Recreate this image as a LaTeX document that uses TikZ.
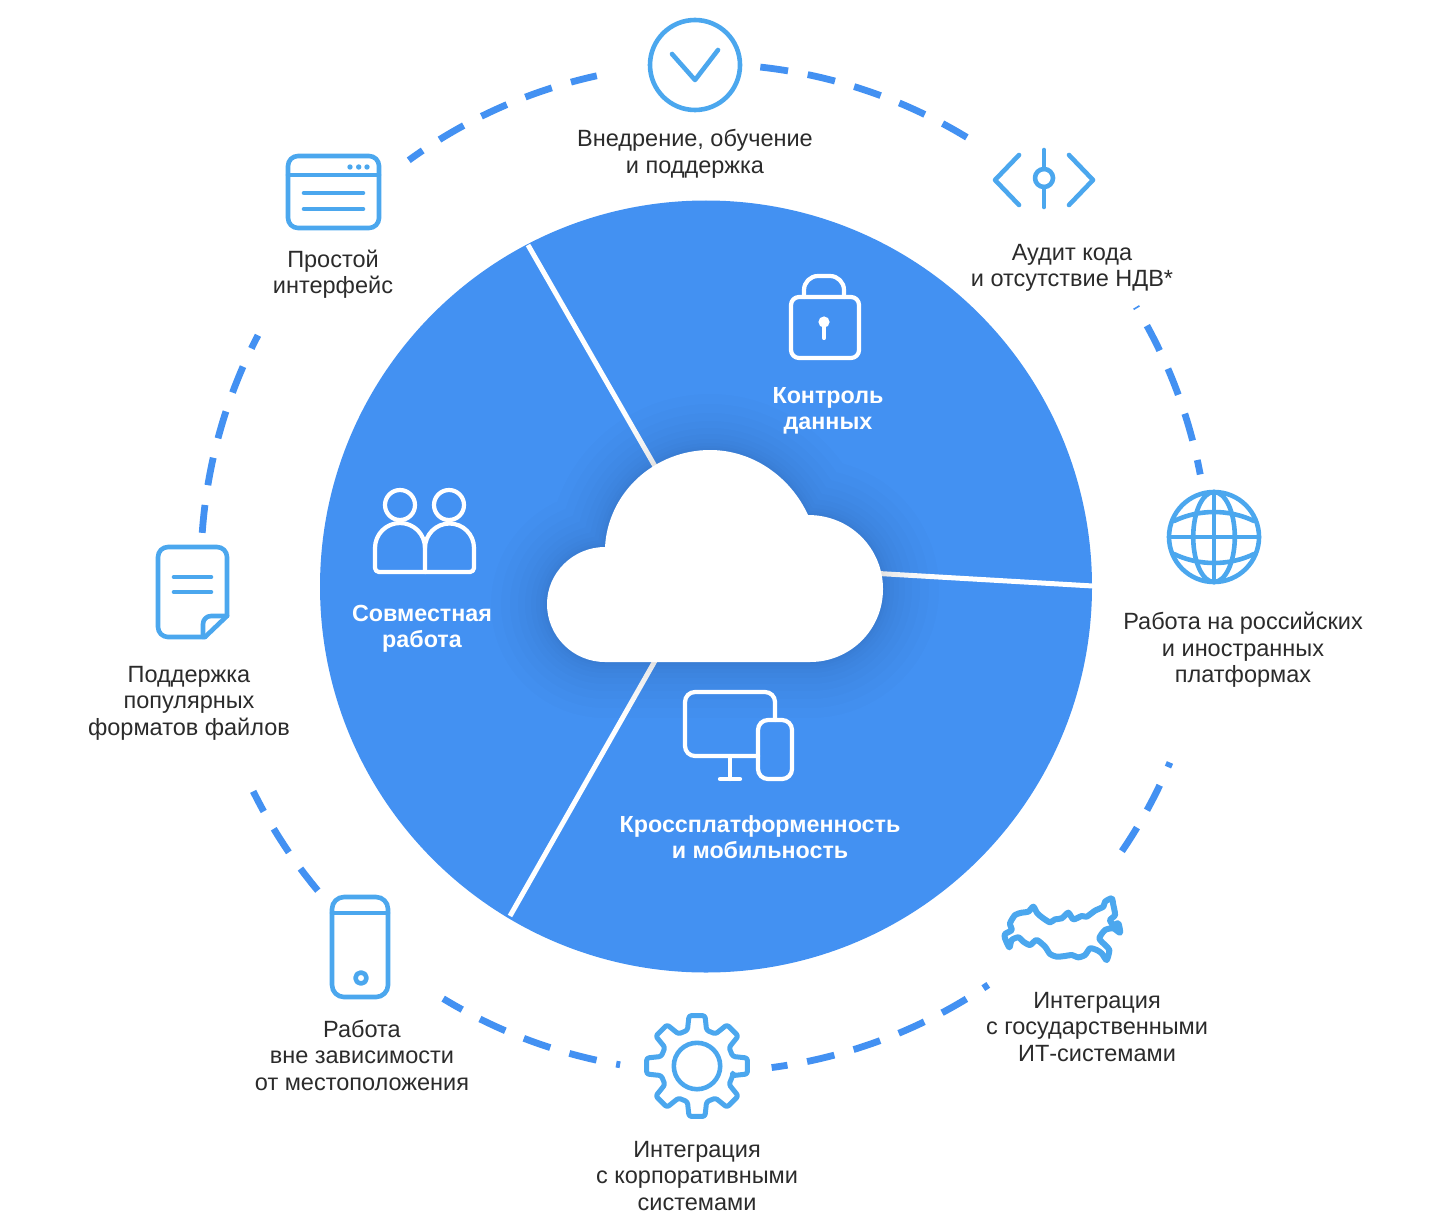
\documentclass[tikz,border=0pt]{standalone}
\usepackage{fontspec}
\setmainfont{Liberation Sans}
\usepackage{xcolor}
\definecolor{dblue}{HTML}{4391F2}
\definecolor{iblue}{HTML}{4BA7EE}
\definecolor{ttext}{HTML}{2B2B2B}
\usetikzlibrary{calc}
\usetikzlibrary{positioning}
\newcommand{\cloudpath}{(605,547) .. controls (608,492) and (655,450) .. (710,450)
  .. controls (752,450) and (790,476) .. (808,515)
  .. controls (851,515) and (883,549) .. (883,589)
  .. controls (883,630) and (850,662) .. (810,662)
  -- (605,662) .. controls (573,662) and (547,636) .. (547,604)
  .. controls (547,573) and (573,547) .. (605,547) -- cycle}
\tikzset{
  label/.style={font=\fontsize{11.75}{13.25}\selectfont,text=ttext,align=center,inner sep=0pt},
  wlabel/.style={font=\fontsize{11.65}{13.25}\selectfont\bfseries,text=white,align=center,inner sep=0pt},
  divider/.style={draw=white,line width=2.5pt},
  icon/.style={draw=iblue,line width=2.3pt,line join=round,line cap=round},
  wicon/.style={draw=white,line width=2.1pt,line join=round,line cap=round},
}
\begin{document}
\begin{tikzpicture}[x=.5pt,y=-.5pt]
\useasboundingbox (0,0) rectangle (1438,1230);
% ring
\foreach \a/\b/\p in {83.7/58.7/0,31.2/10.7/13.2,-22.7/-34.3/11.5,-55.8/-82.4/11,-99.7/-121.3/12,-140.2/-153.7/0,176/152.5/0,126/102.4/5.5}
  \draw[draw=dblue,line width=3.4pt,dash pattern=on 14pt off 10pt,dash phase=\p pt] (705,568) ++(\a:252pt) arc[start angle=\a,end angle=\b,radius=252pt];
% disc
\fill[dblue] (706,586.5) circle (193pt);
\draw[divider] (528,245) -- (660,475);
\draw[divider] (1093,586) -- (870,573);
\draw[divider] (510,916) -- (660,652);
% cloud
\foreach \w in {4,8,14,22,32,44,58,74,92,112}
  \draw[black,opacity=.013,line width=\w*.5pt,line join=round] \cloudpath;
\fill[white] \cloudpath;
% top icon
\draw[icon] (695,65) circle (22.5pt);
\draw[icon] (672,54) -- (695,80) -- (718,50);
% code
\draw[icon] (1019,155) -- (995,180) -- (1019,205);
\draw[icon] (1069,155) -- (1093,180) -- (1069,205);
\draw[icon] (1044,150) -- (1044,169) (1044,187) -- (1044,207);
\draw[icon] (1044,178) circle (4.5pt);
% globe
\draw[icon] (1214,537) circle (22.5pt);
\draw[icon] (1214,537) ellipse (10.4pt and 22.5pt);
\draw[icon] (1214,492) -- (1214,582);
\draw[icon] (1169,537) -- (1259,537);
\draw[icon] (1174,521) .. controls (1199,509) and (1229,509) .. (1254,521);
\draw[icon] (1174,554) .. controls (1199,566) and (1229,566) .. (1254,554);
% map
\begin{scope}[shift={(950,860)},x=.16667pt,y=-.16667pt]
\draw[icon,line width=3pt] plot[smooth cycle,tension=.4] coordinates {(165,222) (185,210) (180,190) (195,165) (215,158) (235,155) (250,140) (262,160) (280,175) (300,187) (315,178) (335,175) (355,158) (370,178) (395,168) (410,170) (435,152) (460,140) (465,125) (485,115) (490,135) (495,165) (480,180) (490,195) (505,190) (510,218) (490,205) (465,210) (448,235) (465,255) (478,270) (470,300) (455,280) (440,270) (420,265) (405,285) (385,292) (365,285) (345,288) (320,290) (300,282) (285,260) (260,240) (240,255) (220,245) (205,232) (185,240) (178,262) (165,235)};
\end{scope}
% gear
\draw[icon] (697,1066) circle (11.6pt);
\draw[icon,line width=2.5pt,rounded corners=1.2pt] ([shift={(697,1066)}]-15:18.5pt)
  \foreach \a in {0,45,...,315} {
    -- ([shift={(697,1066)}]\a-15:18.5pt) -- ([shift={(697,1066)}]\a-9:25.5pt)
    -- ([shift={(697,1066)}]\a+9:25.5pt) -- ([shift={(697,1066)}]\a+15:18.5pt)
  } -- cycle;
% phone
\draw[icon,rounded corners=6pt] (332,897) rectangle (388,997);
\draw[icon] (332,913) -- (388,913);
\draw[icon] (361,978) circle (2.8pt);
% document
\draw[icon,rounded corners=5pt] (205,637) -- (158,637) -- (158,547) -- (227,547) -- (227,616);
\draw[icon] (227,616) -- (205,637);
\draw[icon,rounded corners=4pt] (227,616) -- (203,616) -- (203,637);
\draw[icon] (174,577) -- (211,577) (174,592) -- (211,592);
% browser
\draw[icon,rounded corners=5pt] (288,156) rectangle (379,228);
\draw[icon] (288,175) -- (379,175);
\fill[iblue] (350,167) circle (1.35pt) (358.7,167) circle (1.35pt) (367,167) circle (1.35pt);
\draw[icon] (304,193) -- (363,193) (304,209) -- (363,209);
% lock
\draw[wicon,rounded corners=4pt] (791,297) rectangle (859,358);
\draw[wicon,rounded corners=7pt] (804,297) -- (804,276) -- (844,276) -- (844,297);
\fill[white] (824,322) circle (2.8pt);
\draw[wicon] (824,322) -- (824,338);
% users
\draw[wicon] (400,505) circle (7.5pt) (449,505) circle (7.5pt);
\draw[wicon,rounded corners=2pt] (425,572) -- (375,572) -- (375,548);
\draw[wicon] (375,548) arc[start angle=180,end angle=0,radius=12.5pt] -- (425,572);
\draw[wicon,rounded corners=2pt] (425,572) -- (474,572) -- (474,548);
\draw[wicon] (474,548) arc[start angle=0,end angle=180,radius=12.25pt];
% devices
\draw[wicon,rounded corners=5pt] (775,720) -- (775,692) -- (685,692) -- (685,756) -- (758,756);
\draw[wicon] (730,756) -- (730,779) (720,779) -- (740,779);
\draw[wicon,rounded corners=5pt] (758,720) rectangle (792,779);
% labels
\node[label] (impl) at (695,154) {Внедрение, обучение\\и поддержка};
\node[label] (audit) at (1072,268) {Аудит кода\\и отсутствие НДВ*};
\node[label] (platf) at (1243,650) {Работа на российских\\и иностранных\\платформах};
\node[label] (gov) at (1097,1027) {Интеграция\\с государственными\\ИТ-системами};
\node[label] (corp) at (697,1176) {Интеграция\\с корпоративными\\системами};
\node[label] (remote) at (362,1055) {Работа\\вне зависимости\\от местоположения};
\node[label] (files) at (189,703) {Поддержка\\популярных\\форматов файлов};
\node[label] (simple) at (333,274) {Простой\\интерфейс};
\node[wlabel] (ctrl) at (828,411) {Контроль\\данных};
\node[wlabel] (team) at (422,629) {Совместная\\работа};
\node[wlabel] (cross) at (760,837) {Кроссплатформенность\\и мобильность};
\end{tikzpicture}
\end{document}
